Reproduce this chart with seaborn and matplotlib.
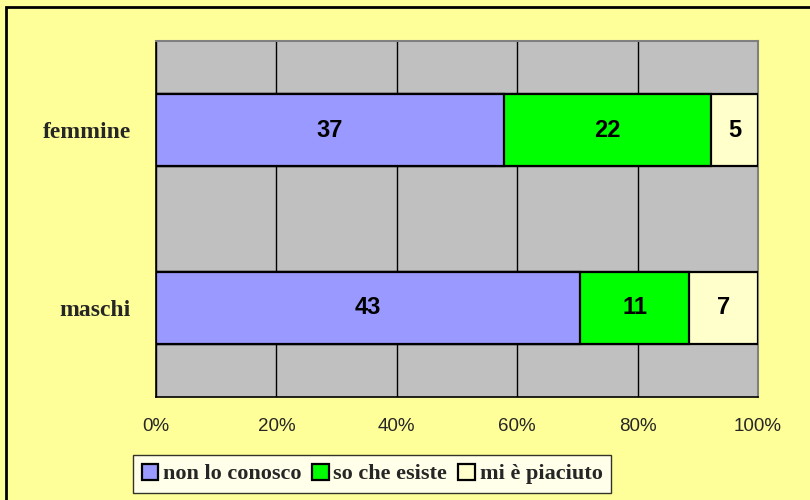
import matplotlib
matplotlib.use("Agg")
import matplotlib.pyplot as plt
from matplotlib.patches import Patch, Rectangle
import seaborn as sns
import pandas as pd
import numpy as np

# ---- data ----
categories = ["femmine", "maschi"]
non_lo_conosco = [37, 43]
so_che_esiste = [22, 11]
mi_e_piaciuto = [5, 7]
series_names = ["non lo conosco", "so che esiste", "mi è piaciuto"]
series_colors = ["#9999FF", "#00FF00", "#FFFFCC"]
x_ticks = [0, 20, 40, 60, 80, 100]
x_tick_labels = ["0%", "20%", "40%", "60%", "80%", "100%"]

sns.set_theme(style="white")
plt.rcParams["font.family"] = ["Liberation Sans", "DejaVu Sans"]

vals = np.array([non_lo_conosco, so_che_esiste, mi_e_piaciuto], dtype=float)
totals = vals.sum(axis=0)
pct = vals / totals * 100
cum = np.cumsum(pct, axis=0)

fig = plt.figure(figsize=(8.1, 5.0), dpi=100, facecolor="#FFFF99")
ax = fig.add_axes([156/810, 1-397/500, (758-156)/810, (397-41)/500])
ax.set_facecolor("#C0C0C0")

# draw stacked bars (cumulative, back to front)
for i in reversed(range(3)):
    df = pd.DataFrame({"gruppo": categories, "valore": cum[i]})
    sns.barplot(data=df, x="valore", y="gruppo", orient="h", color=series_colors[i],
                saturation=1, width=0.4, edgecolor="black", linewidth=1.6, ax=ax, zorder=3)

# value labels
for j, cat in enumerate(categories):
    left = 0
    for i in range(3):
        ax.text(left + pct[i, j]/2, j, f"{int(vals[i, j])}", ha="center", va="center",
                fontsize=17, fontweight="bold", color="black", zorder=5)
        left += pct[i, j]

ax.set_xlim(0, 100)
ax.set_ylim(1.5, -0.5)
ax.set_xticks(x_ticks)
ax.set_xticklabels(x_tick_labels, fontsize=13.5)
ax.set_yticks([0, 1])
ax.set_yticklabels(categories, fontsize=17, fontweight="bold",
                   family=["Liberation Serif", "DejaVu Serif"])
ax.set_yticks([-0.5, 0.5, 1.5], minor=True)
ax.tick_params(axis="y", which="major", length=0, pad=18)
ax.tick_params(axis="y", which="minor", length=7, width=1, color="black", direction="out")
ax.tick_params(axis="x", which="major", length=6, width=1, color="black", direction="out", pad=9)
ax.set_xlabel("")
ax.set_ylabel("")
ax.grid(True, axis="x", color="black", linewidth=1, zorder=0)
ax.set_axisbelow(True)
for s in ["left", "bottom"]:
    ax.spines[s].set_color("black")
    ax.spines[s].set_linewidth(1.2)
for s in ["top", "right"]:
    ax.spines[s].set_color("#808080")
    ax.spines[s].set_linewidth(1.5)

handles = [Patch(facecolor=c, edgecolor="black", linewidth=1.6) for c in series_colors]
leg = fig.legend(handles, series_names, loc="center", bbox_to_anchor=(372/810, 1-474/500),
                 ncol=3, frameon=True, fancybox=False, edgecolor="black", facecolor="white",
                 handlelength=0.75, handleheight=0.75, handletextpad=0.2, columnspacing=0.5,
                 borderpad=0.4,
                 prop={"family": ["Liberation Serif", "DejaVu Serif"], "weight": "bold", "size": 16})
leg.get_frame().set_linewidth(1)

fig.patches.append(Rectangle((6/810, -0.02), 1.0, 1 - 7/500 + 0.02, transform=fig.transFigure,
                             fill=False, edgecolor="black", linewidth=2))

fig.savefig("out.png", dpi=100, facecolor=fig.get_facecolor())
